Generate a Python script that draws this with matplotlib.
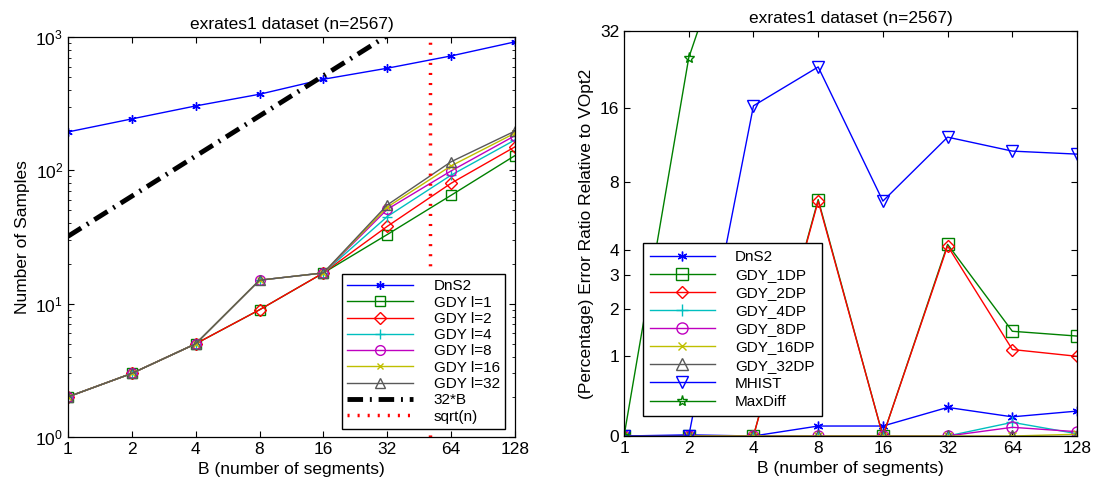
import numpy as np
import matplotlib
matplotlib.use('Agg')
import matplotlib.pyplot as plt
from matplotlib.ticker import FixedLocator, FixedFormatter, NullLocator, LogLocator

plt.rcParams['font.family'] = ['Liberation Sans', 'DejaVu Sans']
plt.rcParams['font.size'] = 12.5

B = [1, 2, 4, 8, 16, 32, 64, 128]
n = 2567
title = 'exrates1 dataset (n=2567)'

# left panel: number of samples
dns2_samples = [194, 243, 304, 372, 482, 583, 721, 919]
gdy_l1 = [2, 3, 5, 9, 17, 33, 65, 129]
gdy_l2 = [2, 3, 5, 9, 17, 38, 80, 150]
gdy_l4 = [2, 3, 5, 15, 17, 45, 92, 169]
gdy_l8 = [2, 3, 5, 15, 17, 51, 99, 182]
gdy_l16 = [2, 3, 5, 15, 17, 53, 108, 190]
gdy_l32 = [2, 3, 5, 15, 17, 55, 116, 197]
line_32B = [32 * b for b in B]

# right panel: error ratio relative to VOpt2
dns2_err = [0, 0.01, 0, 0.09, 0.09, 0.28, 0.18, 0.24]
gdy_1dp = [0, 0, 0, 6.7, 0, 4.23, 1.47, 1.37]
gdy_2dp = [0, 0, 0, 6.6, 0, 4.16, 1.11, 0.99]
gdy_4dp = [0, 0, 0, 0, 0, 0, 0.125, 0.02]
gdy_8dp = [0, 0, 0, 0, 0, 0, 0.078, 0.038]
gdy_16dp = [0, 0, 0, 0, 0, 0, 0, 0.015]
gdy_32dp = [0, 0, 0, 0, 0, 0, 0, 0]
mhist = [0, 0, 16.3, 23.2, 6.6, 12.2, 10.7, 10.4]
maxdiff = [0, 25.2, 135, 150, 140, 145, 150, 160]

cb = (0, 0, 1)
cg = (0, 0.5, 0)
cr = (1, 0, 0)
cc = (0, 0.75, 0.75)
cm = (0.75, 0, 0.75)
cy = (0.75, 0.75, 0)
ck = (0.35, 0.35, 0.35)
star = (6, 2, 0)

fig = plt.figure(figsize=(10.95, 4.93), dpi=100)
W, H = 1095.0, 493.0

# ---- left
ax1 = fig.add_axes([0.0621, 0.1136, 0.4082, 0.8114])
kw = dict(lw=1, ms=6, mfc='none')
ax1.plot(B, dns2_samples, color=cb, marker=star, label='DnS2', **kw)
ax1.plot(B, gdy_l1, color=cg, marker='s', label='GDY l=1', **dict(kw, ms=7))
ax1.plot(B, gdy_l2, color=cr, marker='D', label='GDY l=2', **kw)
ax1.plot(B, gdy_l4, color=cc, marker='+', label='GDY l=4', **dict(kw, ms=7))
ax1.plot(B, gdy_l8, color=cm, marker='o', label='GDY l=8', **dict(kw, ms=7))
ax1.plot(B, gdy_l16, color=cy, marker='x', label='GDY l=16', **dict(kw, ms=5))
ax1.plot(B, gdy_l32, color=ck, marker='^', label='GDY l=32', **dict(kw, ms=7))
ax1.plot(B, line_32B, color='k', lw=3.5, dashes=(3.2, 1.4, 0.4, 1.4), label='32*B')
ax1.plot([np.sqrt(n), np.sqrt(n)], [1, 1000], color='red', lw=2.5, dashes=(0.6, 2.3), label='sqrt(n)')
ax1.set_xscale('log', base=2)
ax1.set_yscale('log')
ax1.set_xlim(1, 128)
ax1.set_ylim(1, 1000)
ax1.xaxis.set_major_locator(FixedLocator(B))
ax1.xaxis.set_major_formatter(FixedFormatter([str(b) for b in B]))
ax1.xaxis.set_minor_locator(NullLocator())
ax1.yaxis.set_minor_locator(LogLocator(base=10, subs=np.arange(2, 10)))
ax1.set_xlabel('B (number of segments)')
ax1.set_ylabel('Number of Samples')
ax1.set_title(title, fontsize=12.5)
leg1 = ax1.legend(loc='lower right', fancybox=False, edgecolor='k', framealpha=1,
                  handlelength=4.3, handletextpad=1.35, labelspacing=0.15, borderpad=0.35,
                  fontsize=11, borderaxespad=0,
                  bbox_to_anchor=(505 / W, 1 - 429 / H), bbox_transform=fig.transFigure)
leg1.get_frame().set_linewidth(1.0)

# ---- right
ax2 = fig.add_axes([0.5699, 0.1156, 0.4137, 0.8215])
ax2.plot(B, dns2_err, color=cb, marker=star, label='DnS2', **dict(kw, ms=7))
ax2.plot(B, gdy_1dp, color=cg, marker='s', label='GDY_1DP', **dict(kw, ms=8))
ax2.plot(B, gdy_2dp, color=cr, marker='D', label='GDY_2DP', **dict(kw, ms=6.5))
ax2.plot(B, gdy_4dp, color=cc, marker='+', label='GDY_4DP', **dict(kw, ms=8))
ax2.plot(B, gdy_8dp, color=cm, marker='o', label='GDY_8DP', **dict(kw, ms=8))
ax2.plot(B, gdy_16dp, color=cy, marker='x', label='GDY_16DP', **dict(kw, ms=6))
ax2.plot(B, gdy_32dp, color=ck, marker='^', label='GDY_32DP', **dict(kw, ms=8))
ax2.plot(B, mhist, color=cb, marker='v', label='MHIST', **dict(kw, ms=8))
ax2.plot(B, maxdiff, color=cg, marker='*', label='MaxDiff', **dict(kw, ms=8))
ax2.set_xscale('log', base=2)
ax2.set_yscale('function', functions=(lambda v: np.log2(1 + np.maximum(v, -0.999)),
                                      lambda u: 2.0 ** u - 1))
ax2.set_xlim(1, 128)
ax2.set_ylim(0, 32)
ax2.xaxis.set_major_locator(FixedLocator(B))
ax2.xaxis.set_major_formatter(FixedFormatter([str(b) for b in B]))
ax2.xaxis.set_minor_locator(NullLocator())
yt = [0, 1, 2, 3, 4, 8, 16, 32]
ax2.yaxis.set_major_locator(FixedLocator(yt))
ax2.yaxis.set_major_formatter(FixedFormatter([str(v) for v in yt]))
ax2.yaxis.set_minor_locator(NullLocator())
ax2.set_xlabel('B (number of segments)')
ax2.set_ylabel('(Percentage) Error Ratio Relative to VOpt2')
ax2.set_title(title, fontsize=12.5)
leg2 = ax2.legend(loc='upper left', fancybox=False, edgecolor='k', framealpha=1,
                  handlelength=4.3, handletextpad=1.3, labelspacing=0.27, borderpad=0.45,
                  fontsize=11, borderaxespad=0,
                  bbox_to_anchor=(642.7 / W, 1 - 243 / H), bbox_transform=fig.transFigure)
leg2.get_frame().set_linewidth(1.0)

for ax in (ax1, ax2):
    ax.tick_params(which='both', direction='in', top=True, right=True, labelsize=12.5)
    ax.tick_params(which='major', length=4)
    ax.tick_params(which='minor', length=2)
    for s in ax.spines.values():
        s.set_linewidth(0.9)

fig.savefig('out.png', dpi=100)
